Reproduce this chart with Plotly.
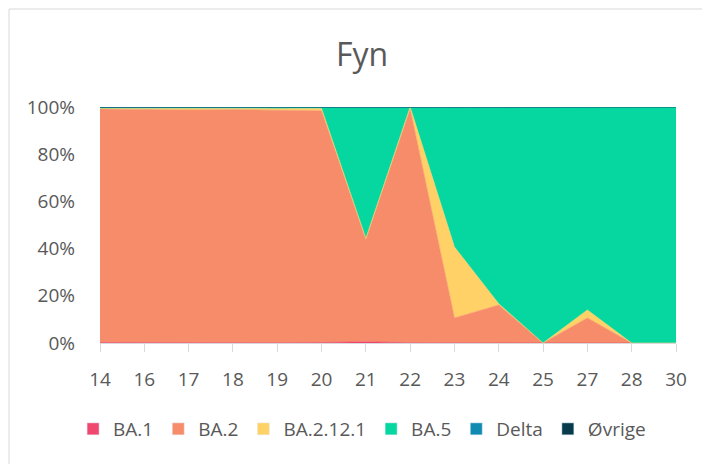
import plotly.graph_objects as go

categories = ["14", "16", "17", "18", "19", "20", "21", "22", "23", "24", "25", "27", "28", "30"]
ba1 = [0.2, 0.1, 0.1, 0.1, 0.1, 0.2, 0.5, 0.1, 0, 0, 0, 0, 0, 0]
ba2 = [99.0, 98.8, 98.6, 98.8, 98.6, 98.2, 43.4, 99.0, 10.6, 16.1, 0, 10.6, 0, 0]
ba2121 = [0.3, 0.5, 0.6, 0.5, 0.6, 1.0, 0.5, 0.9, 30.1, 0.5, 0, 3.4, 0, 0]
delta = [0.1, 0.1, 0.1, 0.1, 0.1, 0, 0, 0, 0, 0, 0, 0, 0, 0]
ovrige = [0.2, 0.2, 0.2, 0.2, 0.2, 0.1, 0, 0, 0, 0, 0, 0, 0, 0]
ba5 = [round(100 - a - b - c - d - e, 2) for a, b, c, d, e in zip(ba1, ba2, ba2121, delta, ovrige)]

series = [
    ("BA.1", ba1, "#EF476F"),
    ("BA.2", ba2, "#F78C6B"),
    ("BA.2.12.1", ba2121, "#FFD166"),
    ("BA.5", ba5, "#06D6A0"),
    ("Delta", delta, "#118AB2"),
    ("Øvrige", ovrige, "#073B4C"),
]

fig = go.Figure()
for name, vals, col in series:
    fig.add_trace(go.Scatter(
        x=categories, y=vals, name=name, mode="lines",
        stackgroup="one", line=dict(width=0.6, color=col),
        fillcolor=col, showlegend=False, legendgroup=name,
    ))
# square legend markers
for name, vals, col in series:
    fig.add_trace(go.Bar(x=[None], y=[None], name=name, marker_color=col,
                         legendgroup=name, showlegend=True))

font = "Open Sans, sans-serif"
fig.update_layout(
    width=710, height=464,
    margin=dict(l=92, r=42, t=99, b=129),
    paper_bgcolor="white", plot_bgcolor="white",
    font=dict(family=font, color="#595959", size=19),
    title=dict(text="Fyn", x=(362 - 8) / 710, xref="container", xanchor="center",
               y=1 - (55 - 8) / 464, yref="container", yanchor="middle",
               font=dict(size=32, color="#595959", family=font)),
    showlegend=True,
    legend=dict(orientation="h", x=0.455, xanchor="center", y=-(429 - 343) / 236, yanchor="middle",
                font=dict(size=19, color="#595959"), itemwidth=30, traceorder="normal"),
    xaxis=dict(type="category", range=[0, 13], showgrid=False, showline=True,
               linecolor="#D9D9D9", linewidth=1, ticks="outside", ticklen=8,
               tickcolor="#D9D9D9", ticklabelstandoff=11,
               tickfont=dict(size=19, color="#595959")),
    yaxis=dict(range=[0, 100], tickvals=[0, 20, 40, 60, 80, 100],
               ticktext=["0%", "20%", "40%", "60%", "80%", "100%"],
               showgrid=False, showline=False, zeroline=False,
               ticklabelstandoff=24, tickfont=dict(size=19, color="#595959")),
    shapes=[dict(type="rect", xref="paper", yref="paper",
                 x0=(9 - 100) / 576, x1=(714 - 100) / 576,
                 y0=(343 - 470) / 236, y1=(343 - 9) / 236,
                 line=dict(color="#D9D9D9", width=1), fillcolor="rgba(0,0,0,0)", layer="below")],
)

fig.write_html("out.html")
